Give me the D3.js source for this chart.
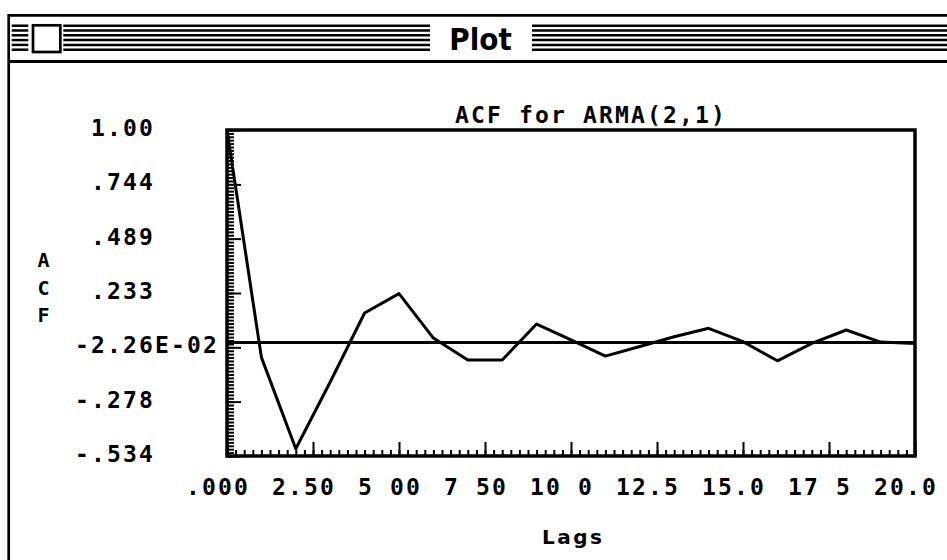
<!DOCTYPE html>
<html>
<head>
<meta charset="utf-8">
<script src="https://cdnjs.cloudflare.com/ajax/libs/d3/7.8.5/d3.min.js"></script>
<style>
  html, body { margin: 0; padding: 0; background: #fff; }
  svg { display: block; }
  text { font-family: "DejaVu Sans Mono", monospace; fill: #000; font-weight: bold; }
</style>
</head>
<body>
<div id="diagram"></div>
<script>
// data
const lags = [0, 1, 2, 3, 4, 5, 6, 7, 8, 9, 10, 11, 12, 13, 14, 15, 16, 17, 18, 19, 20];
const acf = [1.0, -0.07, -0.5, -0.186, 0.139, 0.23, 0.021, -0.082, -0.082, 0.087, 0.012,
  -0.064, -0.019, 0.027, 0.067, 0.004, -0.086, -0.004, 0.059, 0.002, -0.005];
const yTicks = [1.0, 0.744, 0.489, 0.233, -0.0226, -0.278, -0.534];
const yTickLabels = ["1.00", ".744", ".489", ".233", "-2.26E-02", "-.278", "-.534"];
const xTicks = [0, 2.5, 5, 7.5, 10, 12.5, 15, 17.5, 20];
const xTickLabels = [".000", "2.50", "5 00", "7 50", "10 0", "12.5", "15.0", "17 5", "20.0"];
const windowTitle = "Plot";
const chartTitle = "ACF for ARMA(2,1)";
const xLabel = "Lags";
const yLabel = ["A", "C", "F"];

// constants
const w = 947;
const h = 560;
const plotLeft = 227;
const plotRight = 915;
const plotTop = 130;
const plotBottom = 456;
const charW = 16;

const svg = d3
  .select("#diagram")
  .append("svg")
  .attr("width", w)
  .attr("height", h);

// window chrome
const chrome = svg.append("g").attr("stroke", "#000").attr("fill", "none");
chrome.append("line").attr("x1", 8.7).attr("x2", w).attr("y1", 15.3).attr("y2", 15.3).attr("stroke-width", 2.7);
chrome.append("line").attr("x1", 8.7).attr("x2", 8.7).attr("y1", 14).attr("y2", h).attr("stroke-width", 2.7);
chrome.append("line").attr("x1", 8.7).attr("x2", w).attr("y1", 61.5).attr("y2", 61.5).attr("stroke-width", 3);
const stripeSegs = [[11.7, 28.3], [63.3, 430], [532, w]];
for (let i = 0; i < 6; i++) {
  stripeSegs.forEach((s) => {
    chrome
      .append("line")
      .attr("x1", s[0])
      .attr("x2", s[1])
      .attr("y1", 25.7 + i * 4.8)
      .attr("y2", 25.7 + i * 4.8)
      .attr("stroke-width", 2.5);
  });
}
chrome
  .append("rect")
  .attr("x", 33)
  .attr("y", 25.3)
  .attr("width", 27.3)
  .attr("height", 26.7)
  .attr("fill", "#fff")
  .attr("stroke-width", 2.7);
svg
  .append("text")
  .text(windowTitle)
  .attr("x", 480.5)
  .attr("y", 50)
  .attr("text-anchor", "middle")
  .style("font-family", "DejaVu Sans Condensed, DejaVu Sans")
  .style("font-size", "31px");

// scales
const xScale = d3.scaleLinear().domain([0, 20]).range([plotLeft, plotRight]);
const yScale = d3.scaleLinear().domain([-0.534, 1.0]).range([plotBottom, plotTop]);

// minor tick positions
const yMinor = d3.range(0, 97).map((i) => -0.534 + (i * 1.534) / 96);
const xMinor = d3.range(0, 81).map((i) => i * 0.25);

// axis ticks (pointing inward)
const styleTicks = (g) => {
  g.select(".domain").remove();
  g.selectAll(".tick line").attr("stroke-width", 2);
  g.selectAll(".tick text").remove();
};
svg
  .append("g")
  .attr("transform", `translate(${plotLeft},0)`)
  .call(d3.axisRight(yScale).tickValues(yMinor).tickSize(7).tickFormat(""))
  .call(styleTicks);
svg
  .append("g")
  .attr("transform", `translate(${plotLeft},0)`)
  .call(d3.axisRight(yScale).tickValues(yTicks).tickSize(14).tickFormat(""))
  .call(styleTicks);
svg
  .append("g")
  .attr("transform", `translate(0,${plotBottom})`)
  .call(d3.axisTop(xScale).tickValues(xMinor).tickSize(6).tickFormat(""))
  .call(styleTicks);
svg
  .append("g")
  .attr("transform", `translate(0,${plotBottom})`)
  .call(d3.axisTop(xScale).tickValues(xTicks).tickSize(14).tickFormat(""))
  .call(styleTicks);

// tick labels
svg
  .selectAll(".ylab")
  .data(yTicks)
  .enter()
  .append("text")
  .attr("class", "ylab")
  .attr("x", (d, i) => (yTickLabels[i][0] === "-" ? 75 : 75 + charW))
  .attr("y", (d) => yScale(d) + 6)
  .style("font-size", "23px")
  .style("letter-spacing", "2.15px")
  .text((d, i) => yTickLabels[i]);
svg
  .selectAll(".xlab")
  .data(xTicks)
  .enter()
  .append("text")
  .attr("class", "xlab")
  .attr("x", (d) => xScale(d) - 41)
  .attr("y", 495)
  .style("font-size", "23px")
  .style("letter-spacing", "2.15px")
  .text((d, i) => xTickLabels[i]);

// titles
svg
  .append("text")
  .text(chartTitle)
  .attr("x", 455)
  .attr("y", 123)
  .style("font-size", "23px")
  .style("letter-spacing", "2.15px");
svg
  .append("text")
  .text(xLabel)
  .attr("x", 542)
  .attr("y", 544)
  .style("font-family", "DejaVu Sans")
  .style("font-size", "20px")
  .style("letter-spacing", "2.5px");
svg
  .selectAll(".ylabel")
  .data(yLabel)
  .enter()
  .append("text")
  .attr("class", "ylabel")
  .attr("x", 43.5)
  .attr("y", (d, i) => 267 + i * 27.5)
  .attr("text-anchor", "middle")
  .style("font-size", "20px")
  .text((d) => d);

// zero line
svg
  .append("line")
  .attr("x1", xScale(0))
  .attr("x2", xScale(20))
  .attr("y1", yScale(0))
  .attr("y2", yScale(0))
  .attr("stroke", "#000")
  .attr("stroke-width", 3);

// acf line
const line = d3
  .line()
  .x((d, i) => xScale(lags[i]))
  .y((d) => yScale(d));
svg
  .append("path")
  .datum(acf)
  .attr("d", line)
  .attr("fill", "none")
  .attr("stroke", "#000")
  .attr("stroke-width", 3)
  .attr("stroke-linejoin", "round");

// frame
svg
  .append("rect")
  .attr("x", xScale(0))
  .attr("y", yScale(1))
  .attr("width", xScale(20) - xScale(0))
  .attr("height", yScale(-0.534) - yScale(1))
  .attr("fill", "none")
  .attr("stroke", "#000")
  .attr("stroke-width", 3.5);
</script>
</body>
</html>
